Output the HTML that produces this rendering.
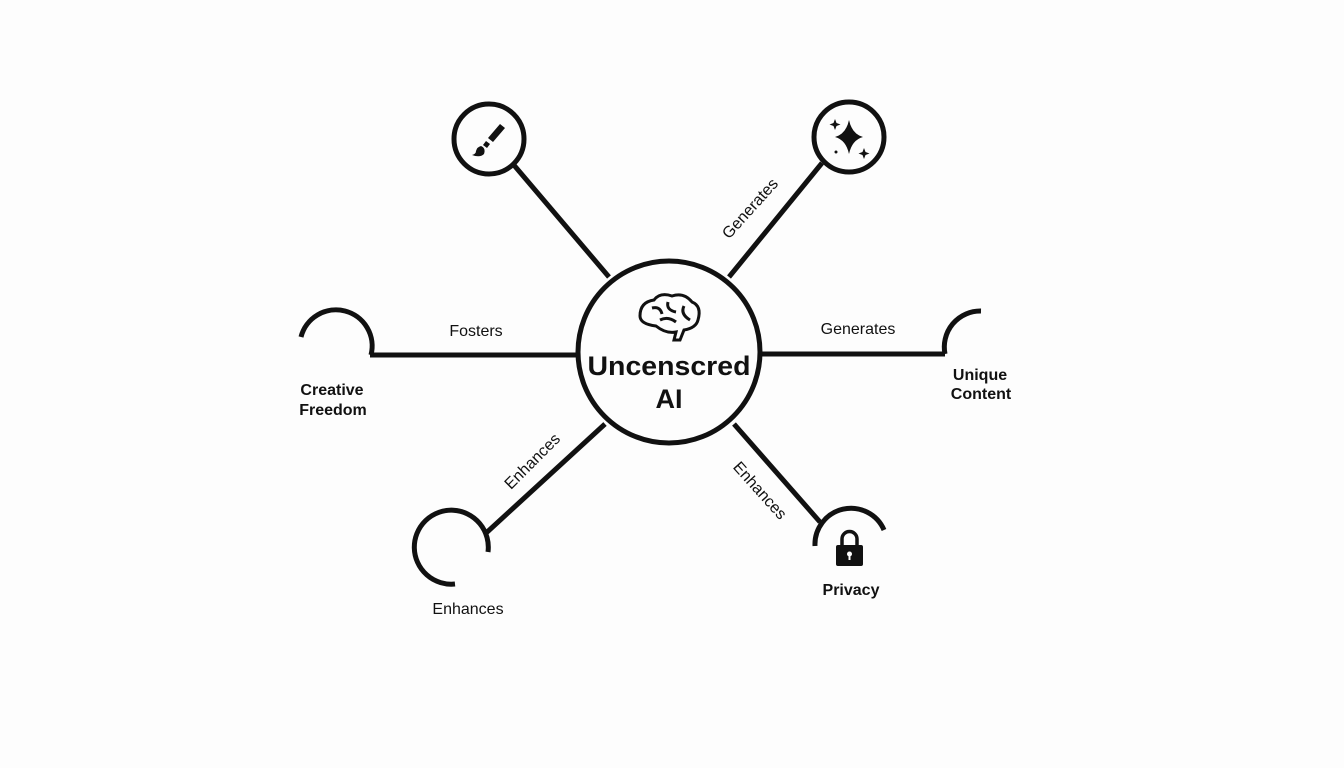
<!DOCTYPE html>
<html><head><meta charset="utf-8"><style>
html,body{margin:0;padding:0;background:#fdfdfd;}
svg{display:block;font-family:"Liberation Sans",sans-serif;}
</style></head><body>
<svg width="1344" height="768" viewBox="0 0 1344 768">
<rect width="1344" height="768" fill="#fdfdfd"/>
<g stroke="#111" stroke-width="5" fill="none" stroke-linecap="butt">
<line x1="513" y1="164" x2="609" y2="277"/>
<line x1="822" y1="163" x2="729" y2="277"/>
<line x1="370" y1="355" x2="577" y2="355"/>
<line x1="761" y1="354" x2="945" y2="354"/>
<line x1="605" y1="424" x2="485" y2="534"/>
<line x1="734" y1="424" x2="820" y2="522"/>
<circle cx="669" cy="352" r="91"/>
<circle cx="489" cy="139" r="35"/>
<circle cx="849" cy="137" r="35"/>
<path d="M301 337 A36 36 0 0 1 371 355"/>
<path d="M945 354 A36 36 0 0 1 981 311"/>
<path d="M488 552 A37 37 0 1 0 455 584"/>
<path d="M815 546 A36 36 0 0 1 884 530"/>
</g>
<g fill="#111">
<path d="M500 124 l5 4 -12 14 -5 -4z"/>
<path d="M486 141 l4 3 -3 4 -4 -3z"/>
<path d="M481 146 q5 2 3 8 q-4 4 -12 1 q4 -1 4 -4 q1 -4 5 -5z"/>
</g>
<g fill="#111">
<path d="M849 120 q3 14 14 17 q-11 3 -14 17 q-3 -14 -14 -17 q11 -3 14 -17z"/>
<path d="M835 119 l1.5 4 4 1.5 -4 1.5 -1.5 4 -1.5 -4 -4 -1.5 4 -1.5z"/>
<path d="M864 148 l1.5 4 4 1.5 -4 1.5 -1.5 4 -1.5 -4 -4 -1.5 4 -1.5z"/>
<circle cx="836" cy="152" r="1.5"/>
</g>
<g stroke="#111" stroke-width="3" fill="none">
<path d="M656 326 q-16 -2 -16 -10 q0 -14 14 -16 q6 -8 18 -4 q12 -4 20 6 q10 4 6 18 q-2 8 -14 10 l-4 10 l-6 0 l2 -8 q-10 2 -20 -6z"/>
<path d="M652 308 q8 -2 10 6 M668 302 q-2 8 8 10 M684 306 q-4 8 6 14 M660 320 q8 -4 16 2"/>
</g>
<g fill="#111">
<path d="M842 546 v-7 a7.5 7.5 0 0 1 15 0 v7" fill="none" stroke="#111" stroke-width="3.5"/>
<rect x="836" y="545" width="27" height="21" rx="2"/>
<circle cx="849.5" cy="554" r="2.5" fill="#fff"/>
<rect x="848.5" y="554" width="2" height="6" fill="#fff"/>
</g>
<g fill="#111" text-anchor="middle">
<text x="669" y="375" font-size="27" font-weight="bold" textLength="163" lengthAdjust="spacingAndGlyphs">Uncenscred</text>
<text x="669" y="408" font-size="27" font-weight="bold">AI</text>
<text x="476" y="336" font-size="16">Fosters</text>
<text x="858" y="334" font-size="16">Generates</text>
<text x="332" y="395" font-size="16" font-weight="bold">Creative</text>
<text x="333" y="415" font-size="16" font-weight="bold">Freedom</text>
<text x="980" y="380" font-size="16" font-weight="bold">Unique</text>
<text x="981" y="399" font-size="16" font-weight="bold">Content</text>
<text x="468" y="614" font-size="16">Enhances</text>
<text x="851" y="595" font-size="16" font-weight="bold">Privacy</text>
<text transform="translate(754,212) rotate(-48)" font-size="16">Generates</text>
<text transform="translate(536,465) rotate(-45)" font-size="16">Enhances</text>
<text transform="translate(756,494) rotate(48)" font-size="16">Enhances</text>
</g>
</svg>
</body></html>
